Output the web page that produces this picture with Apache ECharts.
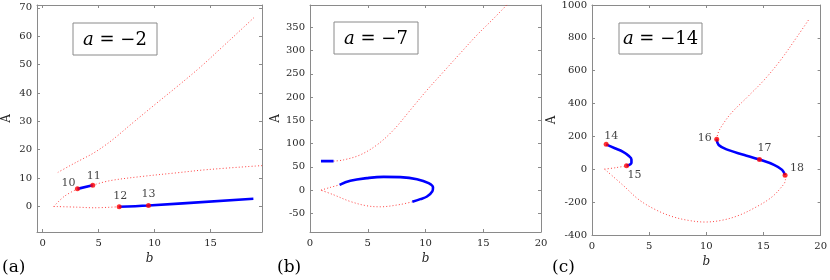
<!DOCTYPE html>
<html><head><meta charset="utf-8">
<script src="https://cdn.jsdelivr.net/npm/echarts@6/dist/echarts.min.js"></script>
<style>html,body{margin:0;padding:0;background:#fff}#c{width:830px;height:280px}</style>
</head><body><div id="c"></div>
<script>
// ---------- Panel (a): a = -2 ----------
var aUpper = [[1.36,12.0],[2.5,14.5],[3.5,16.6],[4.5,18.7],[5.5,21.3],[6.5,24.3],[8,29.3],[10,35.8],[12,42.2],[14,48.8],[16,56],[18,63.3],[19,67]];
var aMidRed1 = [[1.0,0],[1.95,3.6],[3.11,6.2]];
var aMidBlue = [[3.11,6.2],[4.48,7.5]];
var aMidRed2 = [[4.48,7.5],[6.03,9.1],[8.93,10.6],[11.84,11.8],[14.76,13.0],[19.6,14.4]];
var aLowRed = [[1.0,0],[3.11,-0.25],[4.57,-0.46],[6.84,-0.1]];
var aLowBlue = [[6.84,-0.1],[9.46,0.35],[18.83,2.7]];
var aPoints = [[3.11,6.2],[4.48,7.5],[6.84,-0.1],[9.46,0.35]];
var aPointNames = ['10','11','12','13'];
var aXTicks = [0,5,10,15];
var aYTicks = [0,10,20,30,40,50,60,70];

// ---------- Panel (b): a = -7 ----------
var bBlueTop = [[0.95,62.3],[2.04,62.3]];
var bUpperRed = [[2.04,62.3],[2.91,65],[4.35,75.8],[5.8,97.3],[7.24,129.5],[8.68,172],[10.13,215],[11.57,254.7],[13.0,294],[14.46,333.5],[15.9,369],[17.3,405]];
var bLoopRed1 = [[0.95,0],[1.7,5.5],[2.56,11.4]];
var bLoopBlue = [[2.56,11.4],[3.49,20],[4.93,25.8],[6.37,28.6],[7.82,27.9],[9.26,23.6],[10.27,15],[10.65,5.6],[10.59,-2.9],[10.13,-13.7],[9.55,-19.3],[8.86,-25]];
var bLoopRed2 = [[8.86,-25],[7.82,-30.8],[6.08,-35.8],[4.93,-33.7],[3.49,-24.4],[2.04,-10],[0.95,0]];
var bXTicks = [0,5,10,15,20];
var bYTicks = [-50,0,50,100,150,200,250,300,350];

// ---------- Panel (c): a = -14 ----------
var cRed1 = [[1.1,0.7],[2.1,10],[3.02,21]];
var cBlue1 = [[1.24,152],[2.0,128],[2.68,107.6],[3.2,82],[3.45,60],[3.45,40],[3.02,21]];
var cLowRed = [[1.1,0.7],[2.68,-95],[4.12,-186],[5.56,-246],[6.99,-287],[8.43,-311],[9.87,-321],[11.31,-311],[12.75,-283],[14.19,-236],[15.62,-175],[16.49,-115],[16.92,-64],[16.89,-35.7]];
var cBlue2 = [[10.91,183],[11.08,148],[11.89,118],[13.33,87.5],[14.65,59],[15.92,27],[16.63,-3.5],[16.89,-35.7]];
var cUpRed = [[10.91,183],[11.02,219],[11.31,259],[12.17,341],[13.61,441],[15.05,543],[16.49,664],[17.93,806],[19.02,917]];
var cPoints = [[1.24,152],[3.02,21],[10.91,183],[14.65,59],[16.89,-35.7]];
var cPointNames = ['14','15','16','17','18'];
var cXTicks = [0,5,10,15,20];
var cYTicks = [-400,-200,0,200,400,600,800,1000];

var FONT = 'DejaVu Serif';
var FRAME = '#8a8a8a';
var LBL = '#262626';
var RED = '#ff2020';
var BLUE = '#0000ff';

var grids = [
  {left:32, top:5, width:230, height:227},
  {left:310, top:5, width:231, height:227},
  {left:592, top:5, width:232, height:230}
];
var ranges = [
  {xmin:-0.5, xmax:19.6, ymin:-9, ymax:71, xt:aXTicks, yt:aYTicks, yname:24},
  {xmin:0, xmax:20, ymin:-90, ymax:398, xt:bXTicks, yt:bYTicks, yname:28},
  {xmin:0, xmax:20, ymin:-400, ymax:1000, xt:cXTicks, yt:cYTicks, yname:33}
];
function plain(v){ return String(v); }

var xAxes = [], yAxes = [];
ranges.forEach(function(r, i){
  var base = {
    type:'value', gridIndex:i, splitLine:{show:false},
    axisLine:{show:true, onZero:false, lineStyle:{color:FRAME, width:1}}
  };
  xAxes.push(Object.assign({}, base, {position:'bottom', min:r.xmin, max:r.xmax,
    axisTick:{show:true, inside:true, length:3, lineStyle:{color:FRAME}, customValues:r.xt},
    axisLabel:{customValues:r.xt, formatter:plain, fontFamily:FONT, fontSize:10, color:LBL, margin:6},
    name:'b', nameLocation:'middle', nameGap:19,
    nameTextStyle:{fontFamily:FONT, fontStyle:'italic', fontSize:12, color:LBL}}));
  xAxes.push(Object.assign({}, base, {position:'top', min:r.xmin, max:r.xmax,
    axisTick:{show:true, inside:true, length:3, lineStyle:{color:FRAME}, customValues:r.xt},
    axisLabel:{show:false}}));
  yAxes.push(Object.assign({}, base, {position:'left', min:r.ymin, max:r.ymax,
    axisTick:{show:true, inside:true, length:3, lineStyle:{color:FRAME}, customValues:r.yt},
    axisLabel:{customValues:r.yt, formatter:plain, fontFamily:FONT, fontSize:10, color:LBL, margin:5},
    name:'A', nameLocation:'middle', nameGap:r.yname,
    nameTextStyle:{fontFamily:FONT, fontSize:12, color:LBL}}));
  yAxes.push(Object.assign({}, base, {position:'right', min:r.ymin, max:r.ymax,
    axisTick:{show:true, inside:true, length:3, lineStyle:{color:FRAME}, customValues:r.yt},
    axisLabel:{show:false}}));
});

function dotted(data, g){
  return {type:'line', xAxisIndex:g*2, yAxisIndex:g*2, data:data, showSymbol:false, symbol:'none',
    smooth:0.35, lineStyle:{color:RED, width:1, type:[1,2.2], opacity:0.85}, silent:true, z:2};
}
function solid(data, g){
  return {type:'line', xAxisIndex:g*2, yAxisIndex:g*2, data:data, showSymbol:false, symbol:'none',
    smooth:0.4, lineStyle:{color:BLUE, width:2.6}, silent:true, z:3};
}
function pts(data, names, offsets, g){
  return {type:'scatter', xAxisIndex:g*2, yAxisIndex:g*2, symbol:'circle', symbolSize:5,
    itemStyle:{color:'#ff0000'}, z:5, silent:true,
    data:data.map(function(p, k){
      return {value:p, label:{show:true, formatter:names[k], position:'inside', offset:offsets[k],
        fontFamily:FONT, fontSize:11, color:'#111'}};
    })};
}

var series = [
  dotted(aUpper,0), dotted(aMidRed1,0), solid(aMidBlue,0), dotted(aMidRed2,0), dotted(aLowRed,0), solid(aLowBlue,0),
  pts(aPoints, aPointNames, [[-9,-6],[1,-9],[1,-11],[0,-11]], 0),
  solid(bBlueTop,1), dotted(bUpperRed,1), dotted(bLoopRed1,1), solid(bLoopBlue,1), dotted(bLoopRed2,1),
  dotted(cRed1,2), solid(cBlue1,2), dotted(cLowRed,2), solid(cBlue2,2), dotted(cUpRed,2),
  pts(cPoints, cPointNames, [[5,-8],[8,9],[-12,-1],[5,-11],[12,-7]], 2)
];

function box(x, y, w, h, txt){
  return [
    {type:'rect', shape:{x:x, y:y, width:w, height:h}, style:{fill:'#fff', stroke:FRAME, lineWidth:1}, z:10},
    {type:'text', x:x+w/2, y:y+h/2+1, z:11, style:{text:'{i|a} = \u2212'+txt, fontFamily:FONT, fontSize:18, fill:'#000',
      align:'center', verticalAlign:'middle', rich:{i:{fontStyle:'italic', fontFamily:FONT, fontSize:18}}}}
  ];
}
var graphic = [].concat(
  box(73,23,84,32,'2'), box(334,22,84,32,'7'), box(619,23,83,31,'14'),
  [{type:'text', x:2, y:259, style:{text:'(a)', fontFamily:FONT, fontSize:17, fill:'#000'}},
   {type:'text', x:277, y:259, style:{text:'(b)', fontFamily:FONT, fontSize:17, fill:'#000'}},
   {type:'text', x:552, y:259, style:{text:'(c)', fontFamily:FONT, fontSize:17, fill:'#000'}}]
);

var chart = echarts.init(document.getElementById('c'));
chart.setOption({animation:false, backgroundColor:'#fff', grid:grids, xAxis:xAxes, yAxis:yAxes, series:series, graphic:graphic});
</script></body></html>
